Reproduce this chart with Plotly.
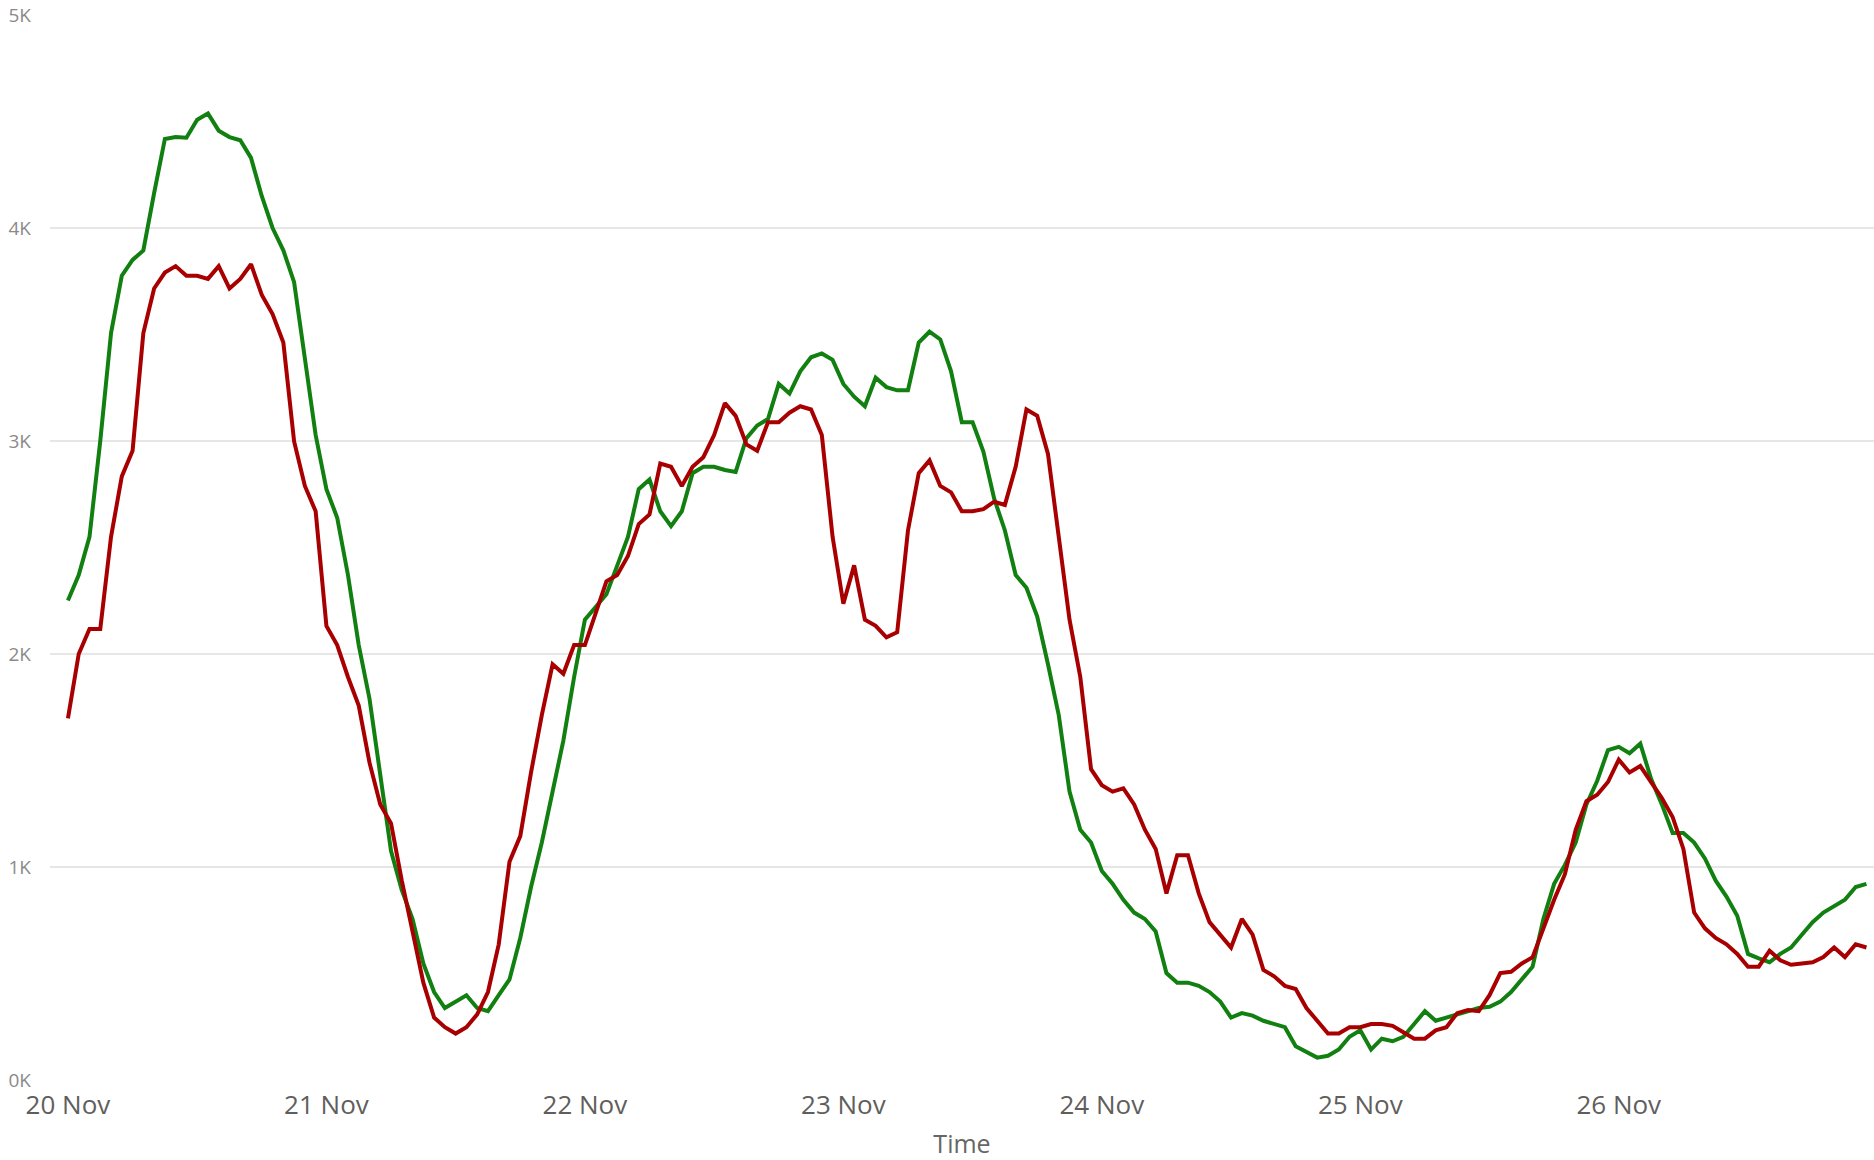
import pandas as pd
import plotly.graph_objects as go

# Hourly timestamps from 20 Nov 00:00
start_time = "2023-11-20 00:00"
n_hours = 168
times = pd.date_range(start_time, periods=n_hours, freq="h")

green_values = [
    2251, 2371, 2550, 3000, 3507, 3776, 3850, 3895, 4164, 4418,
    4427, 4424, 4508, 4538, 4457, 4427, 4412, 4329, 4149, 4000,
    3895, 3746, 3387, 3028, 2774, 2640, 2371, 2042, 1790, 1444,
    1075, 891, 756, 547, 413, 338, 368, 398, 338, 323,
    398, 472, 667, 906, 1115, 1354, 1593, 1892, 2161, 2221,
    2281, 2415, 2550, 2774, 2819, 2670, 2600, 2670, 2849, 2879,
    2879, 2864, 2855, 3013, 3073, 3103, 3268, 3223, 3327, 3393,
    3411, 3381, 3268, 3208, 3163, 3297, 3253, 3238, 3238, 3462,
    3513, 3477, 3327, 3088, 3088, 2950, 2730, 2580, 2371, 2311,
    2176, 1952, 1713, 1354, 1175, 1115, 981, 921, 846, 786,
    756, 697, 502, 457, 457, 442, 413, 368, 293, 314,
    302, 278, 263, 248, 158, 129, 105, 114, 143, 203,
    233, 143, 194, 182, 203, 263, 323, 278, 293, 308,
    323, 338, 344, 368, 413, 472, 532, 756, 921, 1010,
    1115, 1294, 1405, 1549, 1564, 1534, 1579, 1414, 1294, 1160,
    1160, 1115, 1040, 936, 861, 771, 592, 571, 553, 592,
    622, 682, 741, 786, 816, 846, 906, 921,
]

red_values = [
    1698, 2000, 2117, 2117, 2550, 2834, 2954, 3507, 3716, 3791,
    3821, 3776, 3776, 3761, 3821, 3716, 3761, 3830, 3686, 3596,
    3462, 2998, 2789, 2670, 2132, 2042, 1892, 1758, 1490, 1294,
    1205, 936, 697, 457, 293, 248, 218, 248, 308, 413,
    637, 1025, 1145, 1444, 1713, 1952, 1907, 2042, 2042, 2191,
    2341, 2371, 2460, 2610, 2655, 2894, 2879, 2789, 2879, 2924,
    3028, 3178, 3118, 2984, 2954, 3088, 3088, 3133, 3163, 3148,
    3028, 2550, 2236, 2416, 2161, 2132, 2078, 2102, 2580, 2849,
    2909, 2789, 2759, 2670, 2670, 2680, 2715, 2700, 2879, 3148,
    3118, 2939, 2550, 2161, 1892, 1459, 1384, 1354, 1369, 1294,
    1175, 1085, 876, 1055, 1055, 876, 741, 682, 622, 756,
    682, 517, 487, 442, 427, 338, 278, 218, 218, 248,
    248, 263, 263, 254, 224, 194, 194, 233, 248, 314,
    329, 323, 398, 502, 508, 547, 577, 712, 846, 966,
    1175, 1309, 1339, 1399, 1504, 1444, 1474, 1399, 1324, 1235,
    1085, 786, 712, 667, 637, 592, 532, 532, 607, 562,
    541, 547, 553, 577, 622, 577, 637, 622,
]

tick_dates = ["2023-11-20", "2023-11-21", "2023-11-22", "2023-11-23",
              "2023-11-24", "2023-11-25", "2023-11-26"]
tick_labels = ["20 Nov", "21 Nov", "22 Nov", "23 Nov", "24 Nov", "25 Nov", "26 Nov"]
y_tickvals = [0, 1000, 2000, 3000, 4000, 5000]
y_ticktext = ["0K", "1K", "2K", "3K", "4K", "5K"]

FONT = "Segoe UI, Open Sans, sans-serif"

fig = go.Figure()
fig.add_trace(go.Scatter(x=times, y=green_values, mode="lines", name="Green",
                         line=dict(color="#118011", width=4, shape="linear")))
fig.add_trace(go.Scatter(x=times, y=red_values, mode="lines", name="Red",
                         line=dict(color="#A80000", width=4, shape="linear")))

fig.update_layout(
    width=1874, height=1160,
    margin=dict(l=50, r=0, t=15, b=80),
    paper_bgcolor="white", plot_bgcolor="white",
    showlegend=False,
    font=dict(family=FONT),
)
fig.update_xaxes(
    range=["2023-11-19 22:20", "2023-11-26 23:42"],
    tickvals=tick_dates, ticktext=tick_labels,
    showgrid=False, zeroline=False, showline=False,
    automargin=False,
    tickfont=dict(size=26, color="#605E5C", family=FONT),
    ticklabelstandoff=7,
    title=dict(text="Time", font=dict(size=25, color="#666666", family=FONT), standoff=28),
)
fig.update_yaxes(
    range=[0, 5000],
    tickvals=y_tickvals, ticktext=y_ticktext,
    showgrid=True, gridcolor="#E6E6E6", gridwidth=1.5,
    zeroline=False, showline=False,
    automargin=False,
    tickfont=dict(size=19, color="#8A8A8A", family=FONT),
    ticklabelstandoff=18,
)

fig.write_html("out.html", config={"displayModeBar": False},
               post_script="document.body.style.margin='0px';")
